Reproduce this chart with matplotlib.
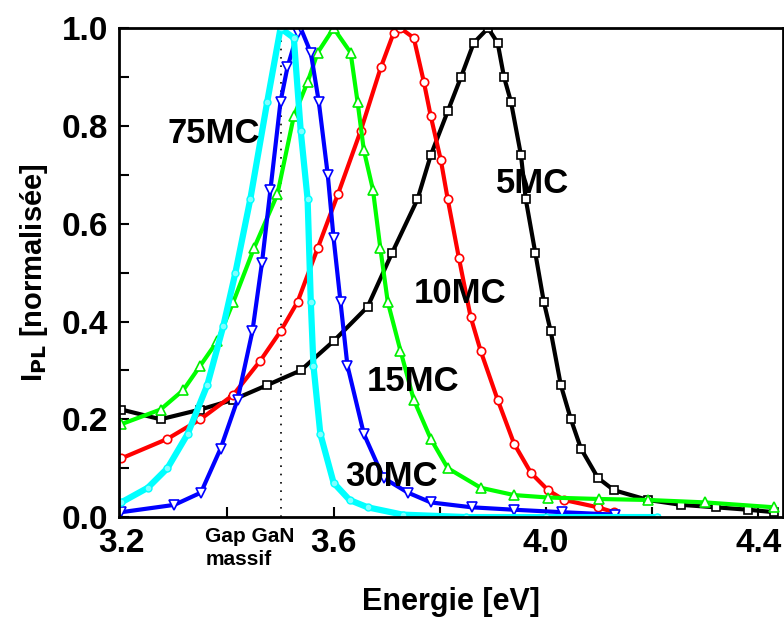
import matplotlib
matplotlib.use("Agg")
from matplotlib import pyplot as plt
from matplotlib.ticker import MultipleLocator

# values (energy in eV, normalised PL intensity)
e_5mc = [3.20, 3.274, 3.349, 3.411, 3.475, 3.538, 3.60, 3.664, 3.71, 3.758, 3.783, 3.815, 3.84, 3.864,
         3.891, 3.909, 3.921, 3.934, 3.953, 3.962, 3.98, 3.996, 4.009, 4.028, 4.047, 4.066, 4.098,
         4.128, 4.192, 4.255, 4.32, 4.381, 4.43]
i_5mc = [0.22, 0.20, 0.22, 0.24, 0.27, 0.30, 0.36, 0.43, 0.54, 0.65, 0.74, 0.83, 0.90, 0.97,
         1.0, 0.97, 0.90, 0.85, 0.74, 0.65, 0.54, 0.44, 0.38, 0.27, 0.20, 0.14, 0.08,
         0.055, 0.035, 0.025, 0.02, 0.015, 0.01]

e_10mc = [3.20, 3.287, 3.349, 3.411, 3.462, 3.50, 3.532, 3.57, 3.608, 3.651, 3.689, 3.713, 3.726,
          3.751, 3.77, 3.783, 3.802, 3.815, 3.836, 3.858, 3.877, 3.909, 3.94, 3.972, 4.004, 4.034,
          4.098, 4.128]
i_10mc = [0.12, 0.16, 0.20, 0.25, 0.32, 0.38, 0.44, 0.55, 0.66, 0.79, 0.92, 0.99, 1.0,
          0.98, 0.89, 0.82, 0.73, 0.65, 0.53, 0.41, 0.34, 0.24, 0.15, 0.09, 0.055, 0.035,
          0.02, 0.01]

e_15mc = [3.20, 3.274, 3.317, 3.349, 3.381, 3.411, 3.45, 3.494, 3.525, 3.551, 3.57, 3.60, 3.632,
          3.645, 3.657, 3.674, 3.688, 3.702, 3.726, 3.751, 3.783, 3.815, 3.877, 3.94, 4.004, 4.10,
          4.192, 4.30, 4.43]
i_15mc = [0.19, 0.22, 0.26, 0.31, 0.36, 0.44, 0.55, 0.66, 0.82, 0.89, 0.95, 1.0, 0.95,
          0.85, 0.75, 0.67, 0.55, 0.44, 0.34, 0.24, 0.16, 0.10, 0.06, 0.045, 0.04, 0.037,
          0.035, 0.03, 0.02]

e_30mc = [3.20, 3.30, 3.35, 3.387, 3.419, 3.447, 3.465, 3.481, 3.50, 3.513, 3.532, 3.538, 3.557,
          3.572, 3.589, 3.60, 3.613, 3.626, 3.657, 3.694, 3.74, 3.783, 3.86, 3.94, 4.03, 4.13]
i_30mc = [0.01, 0.025, 0.05, 0.14, 0.24, 0.38, 0.52, 0.67, 0.85, 0.92, 0.99, 1.0, 0.95,
          0.85, 0.70, 0.57, 0.44, 0.31, 0.17, 0.08, 0.05, 0.03, 0.02, 0.015, 0.01, 0.005]

e_75mc = [3.20, 3.25, 3.287, 3.325, 3.362, 3.392, 3.415, 3.443, 3.475, 3.50, 3.525, 3.538, 3.551,
          3.557, 3.562, 3.575, 3.60, 3.63, 3.664, 3.73, 3.85, 4.0, 4.21]
i_75mc = [0.03, 0.06, 0.10, 0.17, 0.27, 0.39, 0.50, 0.65, 0.85, 1.0, 0.98, 0.79, 0.65,
          0.44, 0.31, 0.17, 0.07, 0.035, 0.02, 0.005, 0.0, 0.0, 0.0]

labels = ["5MC", "10MC", "15MC", "30MC", "75MC"]
label_pos = [(3.974, 0.683), (3.838, 0.458), (3.749, 0.278), (3.709, 0.082), (3.374, 0.785)]
gap_energy = 3.5

plt.rcParams['font.family'] = ['Liberation Sans', 'DejaVu Sans']
plt.rcParams['font.weight'] = 'bold'

fig = plt.figure(figsize=(7.84, 6.26), dpi=100)
ax = fig.add_axes([0.152, 0.174, 0.847, 0.781])

ax.plot([gap_energy, gap_energy], [0, 1], color='black', linestyle=(0, (1, 4)), linewidth=1.2, zorder=1)

ax.plot(e_5mc, i_5mc, color='black', linewidth=3, marker='s', markersize=6,
        markerfacecolor='white', markeredgecolor='black', markeredgewidth=1.2)
ax.plot(e_10mc, i_10mc, color='red', linewidth=3, marker='o', markersize=6,
        markerfacecolor='white', markeredgecolor='red', markeredgewidth=1.2)
ax.plot(e_15mc, i_15mc, color='#00ff00', linewidth=3, marker='^', markersize=7,
        markerfacecolor='white', markeredgecolor='#00ee00', markeredgewidth=1.2)
ax.plot(e_30mc, i_30mc, color='blue', linewidth=3, marker='v', markersize=7,
        markerfacecolor='white', markeredgecolor='blue', markeredgewidth=1.2)
ax.plot(e_75mc, i_75mc, color='cyan', linewidth=4.5, marker='o', markersize=5,
        markerfacecolor='#80ffff', markeredgecolor='cyan')

for lab, (x, y) in zip(labels, label_pos):
    ax.text(x, y, lab, fontsize=25, fontweight='bold', ha='center', va='center')

ax.text(3.358, -0.02, "Gap GaN\nmassif", transform=ax.transData, fontsize=15, fontweight='bold',
        ha='left', va='top', linespacing=1.3, clip_on=False)

ax.set_xlim(3.196, 4.447)
ax.set_ylim(0, 1.0)
ax.xaxis.set_major_locator(MultipleLocator(0.4))
ax.xaxis.set_minor_locator(MultipleLocator(0.2))
ax.yaxis.set_major_locator(MultipleLocator(0.2))
ax.yaxis.set_minor_locator(MultipleLocator(0.1))
ax.set_xticks([3.2, 3.6, 4.0, 4.4])
ax.set_xticklabels(["3.2", "3.6", "4.0", "4.4"])
ax.set_yticks([0.0, 0.2, 0.4, 0.6, 0.8, 1.0])
ax.set_yticklabels(["0.0", "0.2", "0.4", "0.6", "0.8", "1.0"])
ax.tick_params(which='both', direction='in', width=1.5, labelsize=24, pad=8)
ax.tick_params(which='major', length=7)
ax.tick_params(which='minor', length=7)
for s in ax.spines.values():
    s.set_linewidth(2)

ax.set_xlabel("Energie [eV]", fontsize=22, fontweight='bold', labelpad=20)
ax.set_ylabel(r"I$_{\mathbf{PL}}$ [normalisée]", fontsize=21, fontweight='bold', labelpad=8)

fig.savefig("out.png", dpi=100)
